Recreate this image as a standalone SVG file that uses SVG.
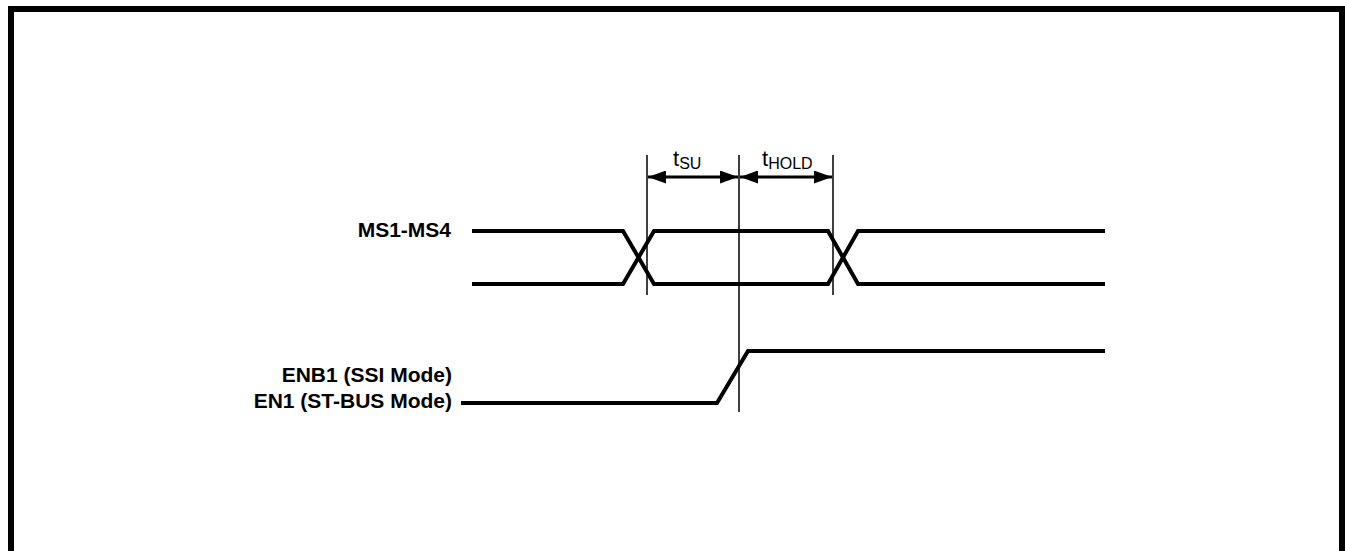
<svg xmlns="http://www.w3.org/2000/svg" width="1345" height="551" viewBox="0 0 1345 551">
<style>
.sig{fill:none;stroke:#000;stroke-width:4;stroke-linejoin:miter;stroke-linecap:butt}
.ref{stroke:#000;stroke-width:1.5}
.dim{stroke:#000;stroke-width:3}
.lbl{font-family:"Liberation Sans",Arial,sans-serif;font-weight:bold;font-size:21px;fill:#000}
.t{font-family:"Liberation Sans",Arial,sans-serif;font-size:22px;fill:#000}
.sub{font-size:16px}
</style>
<defs>
<marker id="ah" markerUnits="userSpaceOnUse" viewBox="0 0 18 13" markerWidth="18" markerHeight="13" refX="18" refY="6.5" orient="auto-start-reverse">
<path d="M0,0 L18,6.5 L0,13 Z" fill="#000"/>
</marker>
</defs>
<rect x="0" y="0" width="1345" height="551" fill="#fff"/>
<rect x="11" y="9" width="1331" height="620" fill="none" stroke="#000" stroke-width="6"/>
<g id="labels">
<text class="lbl" x="451" y="237" text-anchor="end">MS1-MS4</text>
<text class="lbl" x="452" y="382" text-anchor="end">ENB1 (SSI Mode)</text>
<text class="lbl" x="452" y="408" text-anchor="end">EN1 (ST-BUS Mode)</text>
</g>
<g id="MS">
<path class="sig" d="M472,231 L623,231 L654,284 L828,284 L858,231 L1105,231"/>
<path class="sig" d="M472,284 L623,284 L654,231 L828,231 L858,284 L1105,284"/>
</g>
<g id="EN">
<path class="sig" d="M461,403 L717,403 L748,351 L1105,351"/>
</g>
<g id="connectors">
<line class="ref" x1="647" y1="155" x2="647" y2="295"/>
<line class="ref" x1="739" y1="155" x2="739" y2="412"/>
<line class="ref" x1="833" y1="155" x2="833" y2="295"/>
<line class="dim" x1="648" y1="177" x2="738" y2="177" marker-start="url(#ah)" marker-end="url(#ah)"/>
<line class="dim" x1="740" y1="177" x2="832" y2="177" marker-start="url(#ah)" marker-end="url(#ah)"/>
</g>
<g id="timing-labels">
<text class="t" x="673" y="166">t<tspan class="sub" dy="3">SU</tspan></text>
<text class="t" x="762" y="166">t<tspan class="sub" dy="3">HOLD</tspan></text>
</g>
</svg>
